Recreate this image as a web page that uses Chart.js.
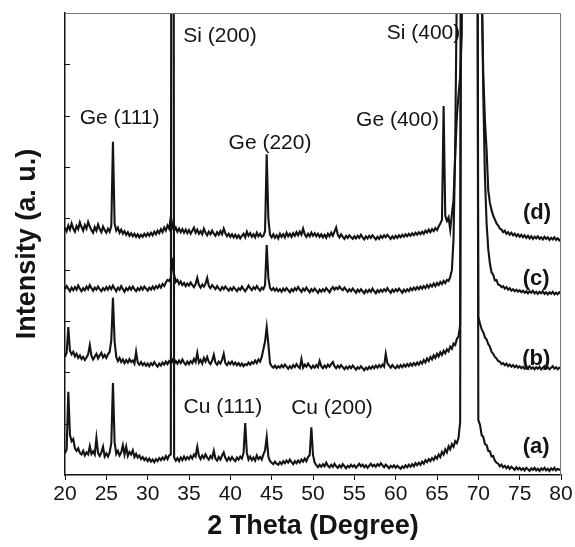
<!DOCTYPE html>
<html>
<head>
<meta charset="utf-8">
<title>XRD patterns</title>
<script src="https://cdn.jsdelivr.net/npm/chart.js@4.4.1/dist/chart.umd.min.js"></script>
<style>
  html, body { margin: 0; padding: 0; background: #fff; }
  #wrap { width: 575px; height: 547px; position: relative; }
</style>
</head>
<body>
<div id="wrap"><canvas id="xrdChart"></canvas></div>
<script>
// scan grid: 20..80 degrees, 0.2 degree step
const scanStart = 20;
const scanStep = 0.2;
const scanCount = 301;

const xTicks = [20, 25, 30, 35, 40, 45, 50, 55, 60, 65, 70, 75, 80];
const yTickValues = [1, 2, 3, 4, 5, 6, 7, 8];

// intensities, one row per 5 degrees (stacked, arbitrary units)
const sampleA = [
  0.42, 0.50, 1.62, 0.78, 0.66, 0.70, 0.52, 0.47, 0.52, 0.43, 0.40, 0.47, 0.38, 0.44, 0.40, 0.56, 0.41, 0.46, 0.40, 0.72, 0.43, 0.37, 0.44, 0.55, 0.36,
  0.42, 0.36, 0.44, 0.62, 1.79, 0.64, 0.41, 0.47, 0.38, 0.44, 0.58, 0.40, 0.55, 0.37, 0.45, 0.40, 0.48, 0.35, 0.41, 0.34, 0.38, 0.31, 0.35, 0.29, 0.33,
  0.27, 0.32, 0.26, 0.30, 0.25, 0.31, 0.27, 0.33, 0.29, 0.34, 0.30, 0.37, 0.31, 0.38, 0.40, 40, 0.34, 0.28, 0.33, 0.27, 0.34, 0.29, 0.36, 0.30, 0.35,
  0.31, 0.37, 0.32, 0.40, 0.36, 0.55, 0.37, 0.31, 0.38, 0.33, 0.40, 0.34, 0.30, 0.37, 0.33, 0.47, 0.32, 0.28, 0.35, 0.30, 0.38, 0.44, 0.33, 0.28, 0.34,
  0.29, 0.35, 0.30, 0.27, 0.34, 0.30, 0.36, 0.32, 0.43, 1.01, 0.43, 0.30, 0.36, 0.29, 0.34, 0.28, 0.38, 0.31, 0.35, 0.30, 0.40, 0.48, 0.74, 0.36, 0.27,
  0.24, 0.21, 0.26, 0.22, 0.20, 0.25, 0.21, 0.27, 0.23, 0.28, 0.24, 0.30, 0.25, 0.21, 0.27, 0.23, 0.28, 0.24, 0.30, 0.26, 0.32, 0.27, 0.35, 0.39, 0.93,
  0.39, 0.24, 0.19, 0.15, 0.20, 0.16, 0.21, 0.17, 0.24, 0.18, 0.15, 0.20, 0.16, 0.22, 0.17, 0.14, 0.19, 0.15, 0.21, 0.17, 0.13, 0.18, 0.15, 0.20, 0.16,
  0.19, 0.14, 0.18, 0.22, 0.17, 0.20, 0.15, 0.19, 0.14, 0.18, 0.22, 0.17, 0.20, 0.16, 0.21, 0.18, 0.23, 0.19, 0.15, 0.20, 0.17, 0.13, 0.18, 0.15, 0.19,
  0.14, 0.18, 0.15, 0.12, 0.17, 0.14, 0.19, 0.15, 0.20, 0.16, 0.21, 0.17, 0.23, 0.19, 0.24, 0.20, 0.26, 0.22, 0.29, 0.25, 0.31, 0.27, 0.33, 0.29, 0.36,
  0.32, 0.40, 0.35, 0.45, 0.40, 0.50, 0.44, 0.56, 0.50, 0.60, 0.55, 0.66, 0.62, 0.72, 1.03, 20, 30, 30, 30, 30, 30, 30, 30, 30, 20,
  1.07, 0.98, 0.78, 0.74, 0.60, 0.58, 0.47, 0.46, 0.36, 0.37, 0.28, 0.24, 0.22, 0.17, 0.20, 0.15, 0.18, 0.13, 0.17, 0.12, 0.16, 0.13, 0.10, 0.15, 0.11,
  0.14, 0.10, 0.13, 0.09, 0.14, 0.11, 0.08, 0.13, 0.10, 0.14, 0.09, 0.12, 0.08, 0.13, 0.10, 0.14, 0.09, 0.12, 0.08, 0.13, 0.10, 0.14, 0.09, 0.12, 0.10,
  0.12
];

const sampleB = [
  2.30, 2.38, 2.88, 2.42, 2.35, 2.40, 2.31, 2.36, 2.28, 2.33, 2.26, 2.30, 2.24, 2.29, 2.35, 2.53, 2.32, 2.25, 2.31, 2.36, 2.27, 2.33, 2.38, 2.29, 2.34,
  2.28, 2.35, 2.40, 2.62, 3.45, 2.60, 2.30, 2.22, 2.28, 2.20, 2.25, 2.18, 2.24, 2.19, 2.26, 2.20, 2.23, 2.17, 2.40, 2.19, 2.15, 2.20, 2.14, 2.18, 2.13,
  2.17, 2.12, 2.18, 2.14, 2.20, 2.15, 2.11, 2.17, 2.13, 2.19, 2.15, 2.21, 2.16, 2.22, 2.18, 2.24, 2.16, 2.22, 2.17, 2.23, 2.18, 2.25, 2.19, 2.15, 2.21,
  2.16, 2.22, 2.18, 2.26, 2.20, 2.38, 2.19, 2.24, 2.17, 2.28, 2.21, 2.30, 2.20, 2.16, 2.23, 2.34, 2.19, 2.15, 2.21, 2.17, 2.24, 2.36, 2.18, 2.14, 2.20,
  2.16, 2.21, 2.15, 2.19, 2.14, 2.18, 2.13, 2.17, 2.12, 2.16, 2.14, 2.19, 2.15, 2.20, 2.17, 2.23, 2.18, 2.25, 2.21, 2.30, 2.45, 2.60, 2.88, 2.55, 2.18,
  2.12, 2.09, 2.13, 2.08, 2.12, 2.09, 2.14, 2.10, 2.15, 2.11, 2.07, 2.12, 2.08, 2.14, 2.10, 2.16, 2.11, 2.08, 2.26, 2.09, 2.15, 2.11, 2.17, 2.12, 2.08,
  2.13, 2.09, 2.14, 2.10, 2.22, 2.12, 2.08, 2.13, 2.09, 2.15, 2.11, 2.16, 2.20, 2.12, 2.08, 2.13, 2.09, 2.14, 2.10, 2.06, 2.11, 2.07, 2.12, 2.08, 2.13,
  2.09, 2.05, 2.10, 2.07, 2.12, 2.08, 2.04, 2.09, 2.06, 2.11, 2.07, 2.12, 2.08, 2.13, 2.09, 2.14, 2.10, 2.15, 2.11, 2.36, 2.18, 2.13, 2.09, 2.14, 2.10,
  2.08, 2.13, 2.09, 2.14, 2.10, 2.15, 2.11, 2.16, 2.12, 2.17, 2.13, 2.18, 2.14, 2.19, 2.15, 2.21, 2.17, 2.24, 2.19, 2.27, 2.22, 2.30, 2.25, 2.33, 2.28,
  2.36, 2.31, 2.39, 2.34, 2.42, 2.37, 2.45, 2.41, 2.50, 2.46, 2.56, 2.53, 2.65, 2.70, 2.92, 20, 30, 30, 30, 30, 30, 30, 30, 30, 20,
  3.08, 2.95, 2.84, 2.78, 2.68, 2.64, 2.55, 2.50, 2.40, 2.36, 2.30, 2.27, 2.22, 2.21, 2.16, 2.18, 2.14, 2.17, 2.12, 2.15, 2.11, 2.14, 2.10, 2.13, 2.09,
  2.12, 2.08, 2.11, 2.07, 2.11, 2.08, 2.12, 2.07, 2.10, 2.06, 2.10, 2.07, 2.11, 2.06, 2.09, 2.12, 2.07, 2.10, 2.06, 2.09, 2.12, 2.07, 2.10, 2.06, 2.09,
  2.08
];

const sampleC = [
  3.62, 3.68, 3.63, 3.58, 3.65, 3.60, 3.66, 3.61, 3.69, 3.63, 3.58, 3.64, 3.60, 3.67, 3.62, 3.70, 3.64, 3.59, 3.65, 3.61, 3.67, 3.62, 3.58, 3.64, 3.60,
  3.66, 3.61, 3.67, 3.62, 3.69, 3.63, 3.58, 3.65, 3.61, 3.68, 3.62, 3.57, 3.64, 3.60, 3.66, 3.61, 3.67, 3.62, 3.58, 3.64, 3.60, 3.66, 3.61, 3.67, 3.63,
  3.59, 3.65, 3.61, 3.67, 3.62, 3.68, 3.64, 3.70, 3.65, 3.72, 3.68, 3.75, 3.80, 3.78, 3.84, 4.23, 3.90, 3.76, 3.80, 3.72, 3.77, 3.70, 3.74, 3.68, 3.73,
  3.69, 3.75, 3.70, 3.66, 3.72, 3.84, 3.70, 3.65, 3.71, 3.67, 3.73, 3.84, 3.68, 3.64, 3.70, 3.66, 3.62, 3.68, 3.63, 3.60, 3.66, 3.62, 3.67, 3.63, 3.59,
  3.64, 3.60, 3.66, 3.62, 3.58, 3.64, 3.61, 3.67, 3.62, 3.58, 3.63, 3.69, 3.64, 3.60, 3.66, 3.62, 3.68, 3.63, 3.59, 3.65, 3.62, 3.70, 4.48, 3.84, 3.64,
  3.60, 3.64, 3.59, 3.63, 3.58, 3.62, 3.57, 3.63, 3.59, 3.64, 3.60, 3.56, 3.62, 3.58, 3.64, 3.60, 3.66, 3.61, 3.57, 3.63, 3.59, 3.65, 3.60, 3.56, 3.62,
  3.58, 3.63, 3.59, 3.55, 3.61, 3.57, 3.62, 3.58, 3.64, 3.60, 3.56, 3.62, 3.66, 3.61, 3.65, 3.62, 3.67, 3.63, 3.60, 3.65, 3.61, 3.57, 3.62, 3.58, 3.63,
  3.59, 3.55, 3.61, 3.57, 3.62, 3.58, 3.54, 3.60, 3.56, 3.61, 3.57, 3.63, 3.58, 3.54, 3.60, 3.56, 3.61, 3.57, 3.62, 3.58, 3.64, 3.59, 3.55, 3.61, 3.57,
  3.62, 3.58, 3.63, 3.59, 3.55, 3.61, 3.57, 3.62, 3.58, 3.64, 3.60, 3.65, 3.61, 3.66, 3.62, 3.67, 3.63, 3.68, 3.64, 3.70, 3.65, 3.71, 3.67, 3.73, 3.68,
  3.74, 3.70, 3.76, 3.72, 3.78, 3.74, 3.80, 3.78, 3.86, 3.99, 4.60, 6.40, 9.50, 20, 30, 30, 30, 30, 30, 30, 30, 30, 30, 30, 30,
  30, 18, 9.8, 7.4, 5.8, 4.9, 4.40, 4.12, 3.95, 3.90, 3.79, 3.80, 3.71, 3.70, 3.66, 3.68, 3.63, 3.66, 3.61, 3.64, 3.59, 3.62, 3.58, 3.61, 3.57,
  3.60, 3.56, 3.59, 3.55, 3.58, 3.54, 3.58, 3.55, 3.59, 3.54, 3.57, 3.53, 3.57, 3.54, 3.58, 3.53, 3.56, 3.52, 3.56, 3.53, 3.57, 3.52, 3.55, 3.52, 3.56,
  3.54
];

const sampleD = [
  4.82, 4.75, 4.86, 4.78, 4.90, 4.80, 4.74, 4.85, 4.79, 4.92, 4.83, 4.76, 4.87, 4.80, 4.93, 4.84, 4.77, 4.72, 4.83, 4.76, 4.88, 4.79, 4.73, 4.84, 4.77,
  4.72, 4.80, 4.74, 4.85, 6.49, 4.90, 4.76, 4.82, 4.72, 4.78, 4.70, 4.75, 4.68, 4.73, 4.66, 4.71, 4.65, 4.70, 4.64, 4.69, 4.63, 4.68, 4.64, 4.70, 4.65,
  4.71, 4.66, 4.72, 4.67, 4.74, 4.69, 4.76, 4.71, 4.79, 4.73, 4.82, 4.76, 4.86, 4.80, 5.03, 4.84, 4.76, 4.82, 4.74, 4.80, 4.73, 4.79, 4.72, 4.78, 4.71,
  4.77, 4.70, 4.76, 4.82, 4.72, 4.78, 4.70, 4.75, 4.69, 4.80, 4.72, 4.67, 4.74, 4.69, 4.76, 4.70, 4.66, 4.73, 4.68, 4.75, 4.69, 4.80, 4.71, 4.65, 4.70,
  4.64, 4.69, 4.63, 4.68, 4.62, 4.67, 4.61, 4.66, 4.70, 4.63, 4.74, 4.66, 4.71, 4.64, 4.69, 4.63, 4.72, 4.65, 4.70, 4.64, 4.66, 4.75, 6.25, 5.00, 4.68,
  4.63, 4.69, 4.62, 4.67, 4.61, 4.70, 4.64, 4.69, 4.63, 4.72, 4.65, 4.70, 4.64, 4.71, 4.66, 4.73, 4.67, 4.74, 4.68, 4.80, 4.69, 4.64, 4.70, 4.65, 4.72,
  4.66, 4.71, 4.65, 4.70, 4.64, 4.69, 4.63, 4.68, 4.62, 4.70, 4.65, 4.72, 4.66, 4.74, 4.82, 4.68, 4.63, 4.69, 4.64, 4.60, 4.66, 4.62, 4.67, 4.63, 4.60,
  4.65, 4.61, 4.66, 4.62, 4.68, 4.63, 4.59, 4.65, 4.61, 4.66, 4.62, 4.67, 4.63, 4.59, 4.64, 4.60, 4.66, 4.62, 4.67, 4.63, 4.68, 4.64, 4.60, 4.65, 4.61,
  4.66, 4.62, 4.67, 4.63, 4.68, 4.64, 4.69, 4.65, 4.70, 4.66, 4.71, 4.67, 4.72, 4.68, 4.73, 4.69, 4.74, 4.70, 4.76, 4.72, 4.78, 4.73, 4.79, 4.75, 4.81,
  4.77, 4.84, 4.90, 4.97, 7.19, 5.05, 4.95, 5.02, 4.78, 5.08, 5.36, 6.20, 6.98, 7.40, 7.76, 8.60, 20, 30, 30, 30, 30, 30, 30, 30, 30,
  30, 20, 9.5, 7.8, 6.9, 6.33, 5.55, 5.30, 5.16, 5.05, 4.98, 4.90, 4.86, 4.80, 4.78, 4.73, 4.76, 4.70, 4.73, 4.68, 4.72, 4.67, 4.70, 4.65, 4.69,
  4.64, 4.68, 4.63, 4.67, 4.62, 4.66, 4.61, 4.65, 4.60, 4.64, 4.61, 4.65, 4.60, 4.63, 4.59, 4.64, 4.60, 4.63, 4.58, 4.62, 4.59, 4.63, 4.58, 4.61, 4.57,
  4.60
];

const peakLabels = ["Ge (111)", "Si (200)", "Ge (220)", "Si (400)", "Ge (400)", "Cu (111)", "Cu (200)"];
const peakLabelPos = [[26.6, 6.95], [38.75, 8.55], [44.8, 6.47], [63.37, 8.6], [60.22, 6.92], [39.1, 1.33], [52.3, 1.31]];
const sampleLabels = ["(d)", "(c)", "(b)", "(a)"];
const sampleLabelPos = [[77.1, 5.1], [77.0, 3.82], [77.0, 2.26], [77.0, 0.55]];

const fontFamily = '"Liberation Sans", Arial, Helvetica, sans-serif';
const ink = "#141414";

const twoTheta = Array.from({ length: scanCount }, (_, i) => Math.round((scanStart + i * scanStep) * 100) / 100);
const toPoints = (values) => values.map((v, i) => ({ x: twoTheta[i], y: v }));

const overlayPlugin = {
  id: "xrdOverlay",
  afterDatasetsDraw(chart) {
    const { ctx, chartArea, scales } = chart;
    const { x, y } = scales;
    ctx.save();

    // thin frame on top and right
    ctx.strokeStyle = "#777";
    ctx.lineWidth = 1;
    ctx.beginPath();
    ctx.moveTo(chartArea.left, chartArea.top + 0.5);
    ctx.lineTo(chartArea.right - 0.5, chartArea.top + 0.5);
    ctx.lineTo(chartArea.right - 0.5, chartArea.bottom);
    ctx.stroke();

    // inward ticks on the left axis
    ctx.strokeStyle = ink;
    ctx.beginPath();
    yTickValues.forEach((v) => {
      const py = Math.round(y.getPixelForValue(v)) + 0.5;
      ctx.moveTo(chartArea.left, py);
      ctx.lineTo(chartArea.left + 5, py);
    });
    ctx.stroke();

    ctx.fillStyle = ink;
    ctx.textAlign = "center";
    ctx.textBaseline = "middle";
    ctx.font = `21px ${fontFamily}`;
    peakLabels.forEach((text, i) => {
      const [px, py] = peakLabelPos[i];
      ctx.fillText(text, x.getPixelForValue(px), y.getPixelForValue(py));
    });
    ctx.font = `bold 22px ${fontFamily}`;
    sampleLabels.forEach((text, i) => {
      const [px, py] = sampleLabelPos[i];
      ctx.fillText(text, x.getPixelForValue(px), y.getPixelForValue(py));
    });
    ctx.restore();
  }
};

const traceStyle = {
  borderColor: ink,
  borderWidth: 2.1,
  borderJoinStyle: "miter",
  pointRadius: 0,
  tension: 0,
  fill: false,
  clip: 0
};

new Chart(document.getElementById("xrdChart"), {
  type: "line",
  data: {
    datasets: [
      { label: "(a)", data: toPoints(sampleA), ...traceStyle },
      { label: "(b)", data: toPoints(sampleB), ...traceStyle },
      { label: "(c)", data: toPoints(sampleC), ...traceStyle },
      { label: "(d)", data: toPoints(sampleD), ...traceStyle }
    ]
  },
  options: {
    responsive: true,
    maintainAspectRatio: false,
    animation: false,
    layout: {
      padding: { top: 13, right: 14, left: 0, bottom: 0 }
    },
    plugins: {
      legend: { display: false },
      tooltip: { enabled: false }
    },
    scales: {
      x: {
        type: "linear",
        min: 20,
        max: 80,
        afterBuildTicks(scale) {
          scale.ticks = xTicks.map((v) => ({ value: v }));
        },
        afterFit(scale) {
          scale.height = 72;
        },
        ticks: {
          color: ink,
          padding: 2,
          maxRotation: 0,
          font: { family: fontFamily, size: 21 }
        },
        grid: {
          display: true,
          drawOnChartArea: false,
          drawTicks: true,
          tickLength: 5,
          color: ink,
          lineWidth: 1
        },
        border: { display: true, color: ink, width: 1.5 },
        title: {
          display: true,
          text: "2 Theta (Degree)",
          color: ink,
          padding: { top: 4, bottom: 4 },
          font: { family: fontFamily, size: 27, weight: "bold" }
        }
      },
      y: {
        min: 0,
        max: 9,
        afterFit(scale) {
          scale.width = 65;
        },
        ticks: { display: false },
        grid: { display: false },
        border: { display: true, color: ink, width: 1.5 },
        title: {
          display: true,
          text: "Intensity (a. u.)",
          color: ink,
          padding: { top: 11, bottom: 0 },
          font: { family: fontFamily, size: 27, weight: "bold" }
        }
      }
    }
  },
  plugins: [overlayPlugin]
});
</script>
</body>
</html>
